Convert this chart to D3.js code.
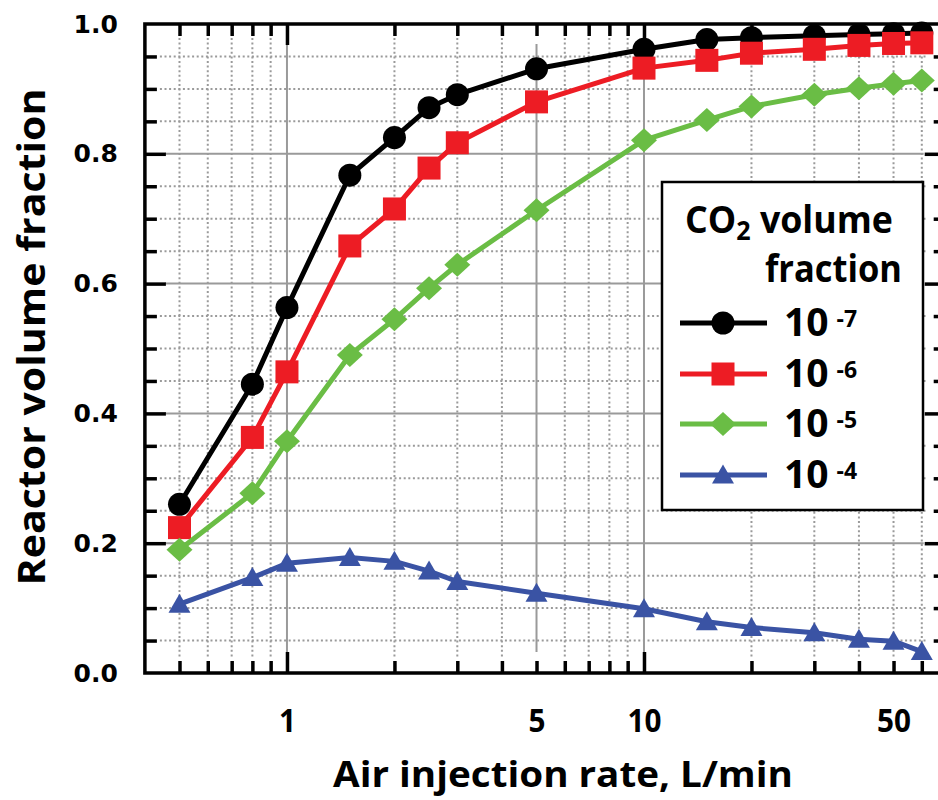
<!DOCTYPE html>
<html>
<head>
<meta charset="utf-8">
<script src="https://cdn.jsdelivr.net/npm/d3@7/dist/d3.min.js"></script>
<style>
  html, body { margin: 0; padding: 0; background: #fff; }
  svg { display: block; }
</style>
</head>
<body>
<svg id="chart" width="938" height="800"></svg>
<script>
// ---- data ----
const airRates = [0.5, 0.8, 1, 1.5, 2, 2.5, 3, 5, 10, 15, 20, 30, 40, 50, 60];
const co2_1e7 = [0.260, 0.445, 0.563, 0.767, 0.825, 0.871, 0.891, 0.931, 0.961, 0.976, 0.979, 0.982, 0.984, 0.985, 0.986];
const co2_1e6 = [0.224, 0.363, 0.464, 0.658, 0.715, 0.778, 0.817, 0.880, 0.932, 0.944, 0.955, 0.961, 0.967, 0.970, 0.971];
const co2_1e5 = [0.190, 0.277, 0.357, 0.490, 0.545, 0.593, 0.629, 0.713, 0.821, 0.852, 0.873, 0.891, 0.901, 0.908, 0.913];
const co2_1e4 = [0.106, 0.147, 0.169, 0.178, 0.172, 0.157, 0.141, 0.123, 0.099, 0.079, 0.070, 0.062, 0.052, 0.049, 0.033];
const seriesExponents = ["-7", "-6", "-5", "-4"];
const xTickLabels = [1, 5, 10, 50];
const xMajorTicks = [1, 10];
const xMinorTicks = [0.5, 0.6, 0.7, 0.8, 0.9, 2, 3, 4, 5, 6, 7, 8, 9, 20, 30, 40, 50, 60];
const xSolidGrid = [1, 5, 10];
const yTickLabels = [0, 0.2, 0.4, 0.6, 0.8, 1.0];
const yMinorTicks = [0.05, 0.1, 0.15, 0.25, 0.3, 0.35, 0.45, 0.5, 0.55, 0.65, 0.7, 0.75, 0.85, 0.9, 0.95];
const ySolidGrid = [0.2, 0.4, 0.6, 0.8];

// ---- layout ----
const svg = d3.select("#chart");
const L = 144.9, R = 945.7, T = 24, B = 673;
const x = d3.scaleLog().domain([0.4, 70]).range([L, R]);
const y = d3.scaleLinear().domain([0, 1]).range([B, T]);

const gridColor = "#9a9a9a";
const series = [
  {vals: co2_1e7, color: "#000000", shape: "circle", w: 5},
  {vals: co2_1e6, color: "#ED1C24", shape: "square", w: 5},
  {vals: co2_1e5, color: "#6ABD45", shape: "diamond", w: 5},
  {vals: co2_1e4, color: "#3A53A4", shape: "triangle", w: 5}
];

// ---- gridlines ----
const grid = svg.append("g");
grid.selectAll("line.vdot").data(xMinorTicks.filter(v => !xSolidGrid.includes(v))).join("line")
  .attr("x1", d => x(d)).attr("x2", d => x(d)).attr("y1", T + 14).attr("y2", B - 15)
  .attr("stroke", gridColor).attr("stroke-width", 2).attr("stroke-dasharray", "2,2.6");
grid.selectAll("line.hdot").data(yMinorTicks).join("line")
  .attr("x1", L + 15).attr("x2", R - 20).attr("y1", d => y(d)).attr("y2", d => y(d))
  .attr("stroke", gridColor).attr("stroke-width", 2).attr("stroke-dasharray", "2,2.6");
grid.selectAll("line.vsol").data(xSolidGrid).join("line")
  .attr("x1", d => x(d)).attr("x2", d => x(d)).attr("y1", T + 20).attr("y2", B - 21)
  .attr("stroke", gridColor).attr("stroke-width", 2);
grid.selectAll("line.hsol").data(ySolidGrid).join("line")
  .attr("x1", L + 20).attr("x2", R - 22).attr("y1", d => y(d)).attr("y2", d => y(d))
  .attr("stroke", gridColor).attr("stroke-width", 2);

// ---- ticks (inward, all four sides) ----
function styleTicks(g) {
  g.select(".domain").remove();
  g.selectAll(".tick line").attr("stroke", "#000").attr("stroke-width", 3.5);
}
svg.append("g").attr("transform", `translate(0,${B})`)
  .call(d3.axisBottom(x).tickValues(xMinorTicks).tickSize(-12).tickFormat("")).call(styleTicks);
svg.append("g").attr("transform", `translate(0,${B})`)
  .call(d3.axisBottom(x).tickValues(xMajorTicks).tickSize(-21).tickFormat("")).call(styleTicks);
svg.append("g").attr("transform", `translate(0,${T})`)
  .call(d3.axisTop(x).tickValues(xMinorTicks).tickSize(-12).tickFormat("")).call(styleTicks);
svg.append("g").attr("transform", `translate(0,${T})`)
  .call(d3.axisTop(x).tickValues(xMajorTicks).tickSize(-21).tickFormat("")).call(styleTicks);
svg.append("g").attr("transform", `translate(${L},0)`)
  .call(d3.axisLeft(y).tickValues(yMinorTicks).tickSize(-12).tickFormat("")).call(styleTicks);
svg.append("g").attr("transform", `translate(${L},0)`)
  .call(d3.axisLeft(y).tickValues(ySolidGrid).tickSize(-21).tickFormat("")).call(styleTicks);
svg.append("g").attr("transform", `translate(${R},0)`)
  .call(d3.axisRight(y).tickValues(yMinorTicks).tickSize(-12).tickFormat("")).call(styleTicks);
svg.append("g").attr("transform", `translate(${R},0)`)
  .call(d3.axisRight(y).tickValues(ySolidGrid).tickSize(-21).tickFormat("")).call(styleTicks);

// ---- tick labels ----
const xl = svg.append("g").attr("transform", `translate(0,${B})`)
  .call(d3.axisBottom(x).tickValues(xTickLabels).tickSize(0).tickPadding(36).tickFormat(d3.format("d")));
xl.select(".domain").remove();
xl.selectAll("text").attr("font-family", "'Open Sans', sans-serif").attr("font-weight", 700)
  .attr("font-size", 33).attr("fill", "#000").attr("transform", "scale(0.9,1)");

const yl = svg.append("g").attr("transform", `translate(${L},0)`)
  .call(d3.axisLeft(y).tickValues(yTickLabels).tickSize(0).tickPadding(27).tickFormat(d3.format(".1f")));
yl.select(".domain").remove();
yl.selectAll("text").attr("font-family", "'DejaVu Sans', sans-serif").attr("font-weight", 700)
  .attr("font-size", 25).attr("fill", "#000");

// ---- frame ----
svg.append("rect").attr("x", L).attr("y", T).attr("width", R - L).attr("height", B - T)
  .attr("fill", "none").attr("stroke", "#000").attr("stroke-width", 3.5);

// ---- markers ----
function drawMarker(g, shape, color, cx, cy) {
  if (shape === "circle") {
    g.append("circle").attr("cx", cx).attr("cy", cy).attr("r", 11.5).attr("fill", color);
  } else if (shape === "square") {
    g.append("rect").attr("x", cx - 11.5).attr("y", cy - 11.5).attr("width", 23).attr("height", 23).attr("fill", color);
  } else if (shape === "diamond") {
    g.append("path").attr("d", `M${cx},${cy - 12} L${cx + 13},${cy} L${cx},${cy + 12} L${cx - 13},${cy} Z`).attr("fill", color);
  } else {
    g.append("path").attr("d", `M${cx},${cy - 10.5} L${cx + 11},${cy + 8.5} L${cx - 11},${cy + 8.5} Z`).attr("fill", color);
  }
}

// ---- series ----
const line = d3.line().x(d => x(d[0])).y(d => y(d[1]));
series.forEach(s => {
  const pts = airRates.map((a, i) => [a, s.vals[i]]);
  const g = svg.append("g");
  g.append("path").attr("d", line(pts)).attr("fill", "none").attr("stroke", s.color)
    .attr("stroke-width", s.w).attr("stroke-linejoin", "round");
  pts.forEach(p => drawMarker(g, s.shape, s.color, x(p[0]), y(p[1])));
});

// ---- legend ----
const lg = svg.append("g");
lg.append("rect").attr("x", 662).attr("y", 182).attr("width", 261).attr("height", 328)
  .attr("fill", "#fff").attr("stroke", "#000").attr("stroke-width", 2.5);
const lfont = "'Open Sans', sans-serif";
const t1 = lg.append("text").attr("x", 685).attr("y", 233).attr("font-family", lfont)
  .attr("font-weight", 700).attr("font-size", 37).attr("fill", "#000")
  .attr("textLength", 208).attr("lengthAdjust", "spacingAndGlyphs");
t1.append("tspan").text("CO");
t1.append("tspan").attr("font-size", 26).attr("dy", 7).text("2");
t1.append("tspan").attr("dy", -7).text(" volume");
lg.append("text").attr("x", 765).attr("y", 282).attr("font-family", lfont)
  .attr("font-weight", 700).attr("font-size", 37).attr("fill", "#000")
  .attr("textLength", 137).attr("lengthAdjust", "spacingAndGlyphs").text("fraction");

const legY = [323, 374, 424, 475];
series.forEach((s, i) => {
  const cy = legY[i];
  lg.append("line").attr("x1", 680).attr("x2", 767).attr("y1", cy).attr("y2", cy)
    .attr("stroke", s.color).attr("stroke-width", s.w);
  drawMarker(lg, s.shape, s.color, 723, cy);
  const tx = lg.append("text").attr("x", 784).attr("y", cy + 13).attr("font-family", lfont)
    .attr("font-weight", 700).attr("font-size", 39).attr("fill", "#000");
  tx.append("tspan").text("10");
  tx.append("tspan").attr("font-size", 23).attr("dx", 8).attr("dy", -9).text(seriesExponents[i]);
});

// ---- axis titles ----
svg.append("text").attr("x", 333).attr("y", 787).attr("font-family", lfont).attr("font-weight", 700)
  .attr("font-size", 35).attr("fill", "#000")
  .attr("textLength", 460).attr("lengthAdjust", "spacingAndGlyphs")
  .text("Air injection rate, L/min");
svg.append("text").attr("transform", "translate(45,337) rotate(-90)").attr("text-anchor", "middle")
  .attr("font-family", lfont).attr("font-weight", 700).attr("font-size", 37).attr("fill", "#000")
  .attr("textLength", 497).attr("lengthAdjust", "spacingAndGlyphs")
  .text("Reactor volume fraction");
</script>
</body>
</html>
